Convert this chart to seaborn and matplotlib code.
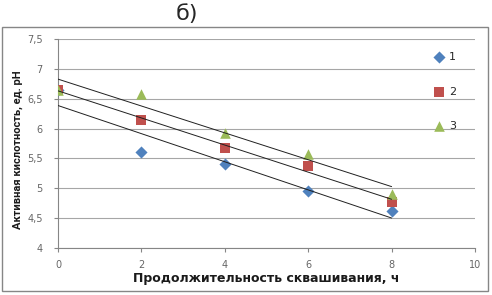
import numpy as np
import pandas as pd
import matplotlib
matplotlib.use("Agg")
import matplotlib.pyplot as plt
import seaborn as sns
from matplotlib.patches import Rectangle
from matplotlib.ticker import FuncFormatter

# --- data ---
hours = [0, 2, 4, 6, 8]
ph_1 = [6.65, 5.60, 5.40, 4.95, 4.62]
ph_2 = [6.65, 6.15, 5.68, 5.37, 4.77]
ph_3 = [6.65, 6.58, 5.93, 5.58, 4.90]
series_names = ["1", "2", "3"]

x_ticks = [0, 2, 4, 6, 8, 10]
y_ticks = [4, 4.5, 5, 5.5, 6, 6.5, 7, 7.5]

title = "б)"
x_label = "Продолжительность сквашивания, ч"
y_label = "Активная кислотность, ед. рН"

colors = ["#4F81BD", "#C0504D", "#9BBB59"]
markers = ["D", "s", "^"]
sizes = [38, 48, 58]

sns.set_theme(style="white")
plt.rcParams["font.family"] = ["DejaVu Sans"]

fig = plt.figure(figsize=(4.92, 2.95), dpi=100)
ax = fig.add_axes([58 / 492, 1 - 248 / 295, 417 / 492, 209 / 295])

for name, vals, c, m, s in zip(series_names, [ph_1, ph_2, ph_3], colors, markers, sizes):
    sns.scatterplot(x=hours, y=vals, marker=m, color=c, s=s, linewidth=0,
                    label=name, ax=ax, zorder=3)
for vals in [ph_1, ph_2, ph_3]:
    # linear trendline like Excel's
    sns.regplot(x=hours, y=vals, scatter=False, ci=None, truncate=True,
                line_kws=dict(color="#202020", lw=0.7, zorder=4), ax=ax)

ax.set_xlim(0, 10)
ax.set_ylim(4, 7.5)
ax.set_xticks(x_ticks)
ax.set_yticks(y_ticks)
fmt = FuncFormatter(lambda v, p: ("%g" % v).replace(".", ","))
ax.yaxis.set_major_formatter(fmt)
ax.xaxis.set_major_formatter(fmt)
ax.tick_params(axis="both", labelsize=7, colors="#868686",
               length=3, width=0.8, direction="out", left=True, bottom=True)
ax.tick_params(axis="y", pad=8)
ax.tick_params(axis="x", pad=6)
for t in ax.get_xticklabels() + ax.get_yticklabels():
    t.set_color("#666666")
ax.grid(axis="y", color="#a6a6a6", lw=0.8)
ax.grid(axis="x", visible=False)
sns.despine(ax=ax, top=True, right=True)
for sp in ["left", "bottom"]:
    ax.spines[sp].set_color("#868686")
    ax.spines[sp].set_linewidth(0.8)

ax.set_xlabel(x_label, fontsize=9, fontweight="bold", color="#1a1a1a")
ax.xaxis.set_label_coords(0.5, -0.146)
ax.xaxis.label.set_va("center")
ax.set_ylabel(y_label, fontsize=8, fontweight="bold", color="#1a1a1a",
              family=["Roboto", "DejaVu Sans"])
ax.yaxis.set_label_coords(-0.096, 0.469)
ax.yaxis.label.set_va("center")

leg = ax.legend(loc="center", bbox_to_anchor=(0.927, 0.748), frameon=False,
                fontsize=8, handlelength=1, handletextpad=0.4, borderpad=0,
                labelspacing=2.2, borderaxespad=0)

fig.text(187 / 492, 1 - 14 / 295, title, fontsize=16, ha="center", va="center")
fig.add_artist(Rectangle((2 / 492, 1 - 291 / 295), 486 / 492, 264 / 295,
                         transform=fig.transFigure, fill=False,
                         edgecolor="#868686", lw=1))

fig.savefig("out.png", dpi=100)
